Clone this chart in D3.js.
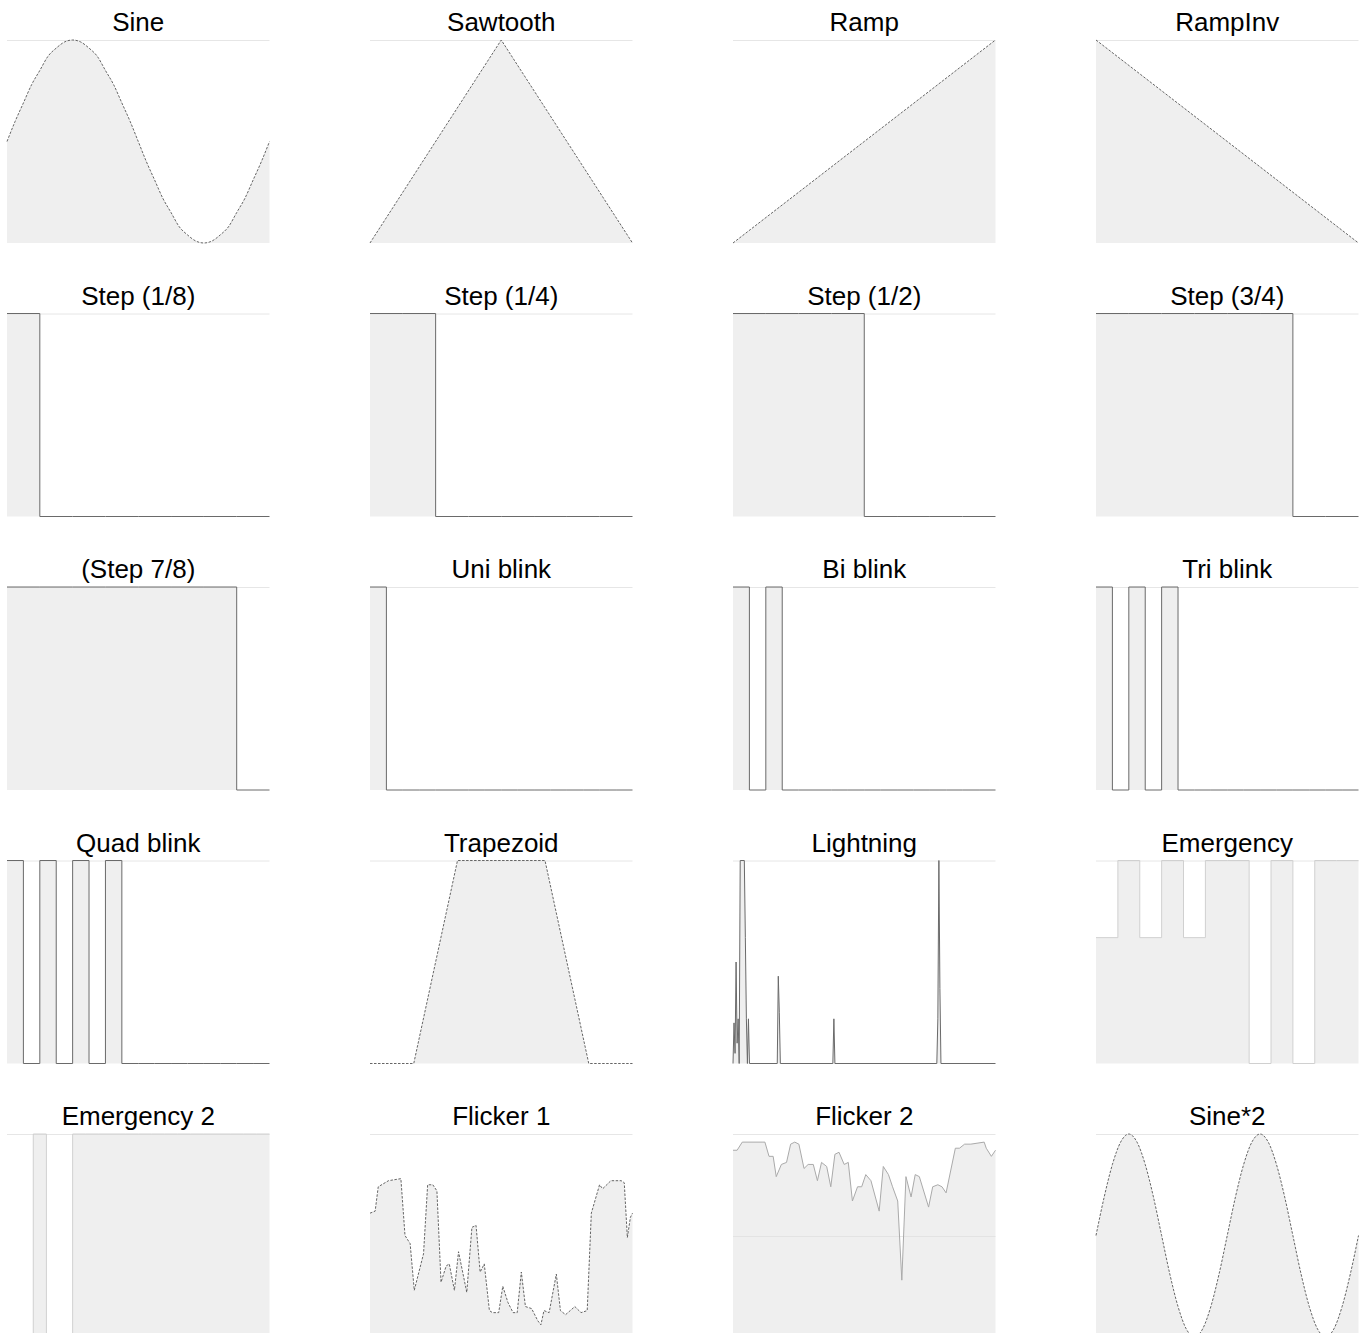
<!DOCTYPE html>
<html>
<head>
<meta charset="utf-8">
<script src="https://cdn.jsdelivr.net/npm/d3@7"></script>
<style>
  body { margin: 0; background: #fff; }
  .title { font-family: "Liberation Sans", Arial, sans-serif; font-size: 26px; fill: #000; }
</style>
</head>
<body>
<div id="charts"></div>
<script>
// Chart titles, read left to right, top to bottom
var titles = ["Sine", "Sawtooth", "Ramp", "RampInv",
  "Step (1/8)", "Step (1/4)", "Step (1/2)", "Step (3/4)",
  "(Step 7/8)", "Uni blink", "Bi blink", "Tri blink",
  "Quad blink", "Trapezoid", "Lightning", "Emergency",
  "Emergency 2", "Flicker 1", "Flicker 2", "Sine*2"];

// evenly spaced samples (0..1 brightness)
var sine = [0.5, 0.6, 0.69, 0.78, 0.85, 0.92, 0.96, 0.99, 1, 0.99, 0.96, 0.92, 0.85, 0.78, 0.69, 0.6,
  0.5, 0.4, 0.31, 0.22, 0.15, 0.08, 0.04, 0.01, 0, 0.01, 0.04, 0.08, 0.15, 0.22, 0.31, 0.4, 0.5];
var sawtooth = [0, 1, 0];
var ramp = [0, 1];
var rampInv = [1, 0];
var trapezoid = [0, 0, 1, 1, 1, 0, 0];
var sine2 = [0.5, 0.69, 0.85, 0.96, 1, 0.96, 0.85, 0.69, 0.5, 0.31, 0.15, 0.04, 0, 0.04, 0.15, 0.31,
  0.5, 0.69, 0.85, 0.96, 1, 0.96, 0.85, 0.69, 0.5, 0.31, 0.15, 0.04, 0, 0.04, 0.15, 0.31, 0.5];

// step slots (value held over each slot)
var step18 = [1, 0, 0, 0, 0, 0, 0, 0];
var step14 = [1, 1, 0, 0, 0, 0, 0, 0];
var step12 = [1, 1, 1, 1, 0, 0, 0, 0];
var step34 = [1, 1, 1, 1, 1, 1, 0, 0];
var step78 = [1, 1, 1, 1, 1, 1, 1, 0];
var uniBlink = [1, 0, 0, 0, 0, 0, 0, 0, 0, 0, 0, 0, 0, 0, 0, 0];
var biBlink = [1, 0, 1, 0, 0, 0, 0, 0, 0, 0, 0, 0, 0, 0, 0, 0];
var triBlink = [1, 0, 1, 0, 1, 0, 0, 0, 0, 0, 0, 0, 0, 0, 0, 0];
var quadBlink = [1, 0, 1, 0, 1, 0, 1, 0, 0, 0, 0, 0, 0, 0, 0, 0];
var emergency = [0.62, 1, 0.62, 1, 0.62, 1, 1, 0, 1, 0, 1, 1];
var emergency2 = [0, 0, 1, 0, 0, 1, 1, 1, 1, 1, 1, 1, 1, 1, 1, 1, 1, 1, 1, 1];

// [time step 0..255, value]
var lightning = [[0, 0], [1, 0.2], [2, 0.05], [3, 0.5], [4, 0.1], [5, 0.22], [6, 0], [7, 1], [11, 1], [12, 0.62],
  [13, 0.22], [14, 0], [15, 0.22], [16, 0], [43, 0], [44, 0.43], [45, 0.25], [46, 0],
  [97, 0], [98, 0.22], [99, 0], [198, 0], [199, 0.22], [200, 1], [201, 0.37], [202, 0], [255, 0]];
var flicker1 = [[0, 0.61], [5, 0.62], [8, 0.74], [18, 0.77], [30, 0.78], [34, 0.5], [39, 0.46], [43, 0.23],
  [52, 0.41], [56, 0.75], [61, 0.75], [65, 0.72], [69, 0.27], [74, 0.35], [77, 0.36], [82, 0.23],
  [86, 0.42], [94, 0.22], [99, 0.54], [103, 0.55], [107, 0.32], [111, 0.36], [116, 0.13], [119, 0.12],
  [125, 0.12], [129, 0.25], [134, 0.17], [139, 0.12], [143, 0.12], [147, 0.32], [151, 0.15], [157, 0.14],
  [163, 0.08], [166, 0.06], [169, 0.13], [174, 0.12], [181, 0.31], [185, 0.13], [190, 0.11], [199, 0.15],
  [205, 0.12], [211, 0.13], [215, 0.61], [223, 0.75], [226, 0.73], [234, 0.77], [244, 0.77], [247, 0.76],
  [250, 0.49], [253, 0.59], [255, 0.61]];
var flicker2 = [[0, 0.92], [4, 0.92], [9, 0.96], [29, 0.96], [31, 0.96], [35, 0.89], [39, 0.89], [42, 0.79],
  [47, 0.85], [52, 0.86], [56, 0.95], [60, 0.96], [64, 0.95], [69, 0.83], [73, 0.85], [78, 0.85],
  [82, 0.77], [86, 0.86], [91, 0.84], [95, 0.74], [99, 0.9], [103, 0.91], [108, 0.85], [112, 0.86],
  [116, 0.67], [121, 0.74], [125, 0.74], [129, 0.8], [134, 0.77], [142, 0.62], [146, 0.84], [151, 0.8],
  [155, 0.74], [160, 0.67], [164, 0.28], [168, 0.79], [173, 0.69], [177, 0.8], [181, 0.79], [190, 0.64],
  [194, 0.74], [199, 0.75], [203, 0.74], [207, 0.71], [216, 0.93], [220, 0.93], [225, 0.95], [231, 0.95],
  [244, 0.96], [246, 0.93], [251, 0.89], [255, 0.92]];

// which series goes with which kind of curve
var charts = [
  { title: titles[0], kind: "even", data: sine, curve: d3.curveMonotoneX, line: "dash" },
  { title: titles[1], kind: "even", data: sawtooth, line: "dash" },
  { title: titles[2], kind: "even", data: ramp, line: "dash" },
  { title: titles[3], kind: "even", data: rampInv, line: "dash" },
  { title: titles[4], kind: "step", data: step18 },
  { title: titles[5], kind: "step", data: step14 },
  { title: titles[6], kind: "step", data: step12 },
  { title: titles[7], kind: "step", data: step34 },
  { title: titles[8], kind: "step", data: step78 },
  { title: titles[9], kind: "step", data: uniBlink },
  { title: titles[10], kind: "step", data: biBlink },
  { title: titles[11], kind: "step", data: triBlink },
  { title: titles[12], kind: "step", data: quadBlink },
  { title: titles[13], kind: "even", data: trapezoid, line: "dash" },
  { title: titles[14], kind: "pairs", data: lightning },
  { title: titles[15], kind: "step", data: emergency, line: "pale" },
  { title: titles[16], kind: "step", data: emergency2, line: "pale" },
  { title: titles[17], kind: "pairs", data: flicker1, line: "dash" },
  { title: titles[18], kind: "pairs", data: flicker2, line: "light", grid: [0.5, 1] },
  { title: titles[19], kind: "even", data: sine2, curve: d3.curveMonotoneX, line: "dash" }
];

var plotW = 262.5, plotH = 203;
var colStep = 363, rowStep = 273.5;

var svg = d3.select("#charts")
  .append("svg")
  .attr("width", 1367)
  .attr("height", 1333);

charts.forEach(function(c, i) {
  var col = i % 4, row = Math.floor(i / 4);
  var g = svg.append("g")
    .attr("transform", `translate(${7 + col * colStep}, ${40 + row * rowStep})`);

  var pts, xDomain, curve = c.curve || d3.curveLinear;
  if (c.kind == "step") {
    pts = c.data.map((v, k) => [k, v]).concat([[c.data.length, c.data[c.data.length - 1]]]);
    xDomain = [0, c.data.length];
    curve = d3.curveStepAfter;
  } else if (c.kind == "even") {
    pts = c.data.map((v, k) => [k, v]);
    xDomain = [0, c.data.length - 1];
  } else {
    pts = c.data;
    xDomain = [0, 255];
  }

  var x = d3.scaleLinear().domain(xDomain).range([0, plotW]);
  var y = d3.scaleLinear().domain([0, 1]).range([plotH, 0]);

  // grid lines
  g.selectAll(".grid")
    .data(c.grid || [1])
    .enter()
    .append("line")
    .attr("x1", 0)
    .attr("x2", plotW)
    .attr("y1", d => Math.round(y(d)) + 0.5)
    .attr("y2", d => Math.round(y(d)) + 0.5)
    .attr("stroke", "#e6e6e6")
    .attr("stroke-width", 1);

  var area = d3.area()
    .x(d => x(d[0]))
    .y0(y(0))
    .y1(d => y(d[1]))
    .curve(curve);

  var line = d3.line()
    .x(d => x(d[0]))
    .y(d => y(d[1]))
    .curve(curve);

  g.append("path")
    .datum(pts)
    .attr("d", area)
    .attr("fill", "#e0e0e0")
    .attr("fill-opacity", 0.5);

  var stroke = "#6a6a6a", dash = null, sw = 1;
  if (c.line == "dash") { stroke = "#555"; dash = "2.5,1.5"; sw = 0.9; }
  if (c.line == "light") { stroke = "#aaa"; }
  if (c.line == "pale") { stroke = "#d0d0d0"; }

  g.append("path")
    .datum(pts)
    .attr("d", line)
    .attr("fill", "none")
    .attr("stroke", stroke)
    .attr("stroke-width", sw)
    .attr("stroke-dasharray", dash);

  g.append("text")
    .attr("class", "title")
    .attr("x", plotW / 2)
    .attr("y", -9)
    .attr("text-anchor", "middle")
    .text(c.title);
});
</script>
</body>
</html>
